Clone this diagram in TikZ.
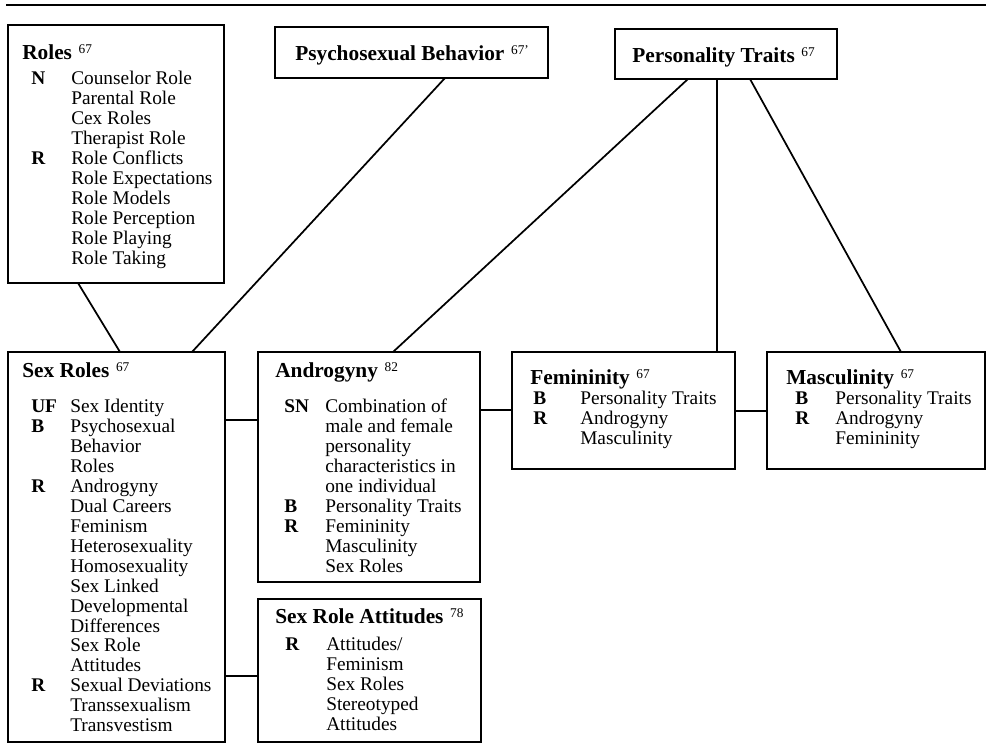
\documentclass[tikz,border=0pt]{standalone}
\usepackage{fontspec}
\usepackage{array}
\setmainfont{Liberation Serif}
\usetikzlibrary{calc}
\newcommand{\tikzHeading}[2]{{\fontsize{16}{18}\selectfont\bfseries #1}\hspace{5pt}\raisebox{4.5pt}{\fontsize{10}{10}\selectfont #2}}
\newcommand{\tikzTermList}[2]{\begin{tabular}[t]{@{}>{\bfseries}p{#1}@{}l@{}}#2\end{tabular}}
\tikzset{
  thesbox/.style n args={2}{draw, line width=1.4pt, inner sep=0pt, outer sep=0pt, anchor=north west,
    minimum width=#1*0.75pt, minimum height=#2*0.75pt},
  headtext/.style={anchor=base west, inner sep=0pt},
  termtext/.style={anchor=base west, inner sep=0pt, font=\fontsize{14.5}{15}\selectfont},
  link/.style={line width=1.3pt}
}

\begin{document}
\begin{tikzpicture}[x=0.75pt,y=-0.75pt]
  \useasboundingbox (0,0) rectangle (986,745);
  \draw[line width=1.6pt] (6,5) -- (986,5);
  % boxes
  \node[thesbox={216}{258}] (roles) at (8,25) {};
  \node[thesbox={273}{51}] (psychosexual) at (275,27) {};
  \node[thesbox={222}{50}] (traits) at (615,29) {};
  \node[thesbox={217}{390}] (sexroles) at (8,352) {};
  \node[thesbox={222}{230}] (androgyny) at (258,352) {};
  \node[thesbox={223}{143}] (attitudes) at (258,599) {};
  \node[thesbox={223}{117}] (femininity) at (512,352) {};
  \node[thesbox={218}{117}] (masculinity) at (767,352) {};
  % headings
  \node[headtext] (rolesHead) at (22,60) {\tikzHeading{Roles}{67}};
  \node[headtext] (psychosexualHead) at (295,61) {\tikzHeading{Psychosexual Behavior}{67'}};
  \node[headtext] (traitsHead) at (632,63) {\tikzHeading{Personality Traits}{67}};
  \node[headtext] (sexrolesHead) at (22,378) {\tikzHeading{Sex Roles}{67}};
  \node[headtext] (androgynyHead) at (275,378) {\tikzHeading{Androgyny}{82}};
  \node[headtext] (attitudesHead) at (275,623) {\tikzHeading{Sex Role Attitudes}{78}};
  \node[headtext] (femininityHead) at (530,385) {\tikzHeading{Femininity}{67}};
  \node[headtext] (masculinityHead) at (786,385) {\tikzHeading{Masculinity}{67}};
  % term lists
  \node[termtext] (rolesTerms) at (31,85) {\tikzTermList{30pt}{%
    N & Counselor Role\\ & Parental Role\\ & Cex Roles\\ & Therapist Role\\
    R & Role Conflicts\\ & Role Expectations\\ & Role Models\\ & Role Perception\\
      & Role Playing\\ & Role Taking}};
  \node[termtext] (sexrolesTerms) at (31,412) {\tikzTermList{29.25pt}{%
    UF & Sex Identity\\
    B & Psychosexual\\ & Behavior\\ & Roles\\
    R & Androgyny\\ & Dual Careers\\ & Feminism\\ & Heterosexuality\\ & Homosexuality\\
      & Sex Linked\\ & Developmental\\ & Differences\\ & Sex Role\\ & Attitudes\\
    R & Sexual Deviations\\ & Transsexualism\\ & Transvestism}};
  \node[termtext] (androgynyTerms) at (284,412) {\tikzTermList{30.75pt}{%
    SN & Combination of\\ & male and female\\ & personality\\ & characteristics in\\ & one individual\\
    B & Personality Traits\\
    R & Femininity\\ & Masculinity\\ & Sex Roles}};
  \node[termtext] (attitudesTerms) at (285,650) {\tikzTermList{30.75pt}{%
    R & Attitudes/\\ & Feminism\\ & Sex Roles\\ & Stereotyped\\ & Attitudes}};
  \node[termtext] (femininityTerms) at (533,405) {\tikzTermList{35.25pt}{%
    B & Personality Traits\\
    R & Androgyny\\ & Masculinity}};
  \node[termtext] (masculinityTerms) at (795,405) {\tikzTermList{30pt}{%
    B & Personality Traits\\
    R & Androgyny\\ & Femininity}};
  % links
  \draw[link] ($(roles.south west)+(70,0)$) -- ($(sexroles.north west)+(112,0)$);
  \draw[link] ($(psychosexual.south west)+(170,0)$) -- ($(sexroles.north west)+(184,0)$);
  \draw[link] ($(traits.south west)+(73,0)$) -- ($(androgyny.north west)+(135,0)$);
  \draw[link] ($(traits.south west)+(102,0)$) -- ($(femininity.north west)+(205,0)$);
  \draw[link] ($(traits.south west)+(135,0)$) -- ($(masculinity.north west)+(134,0)$);
  \draw[link] ($(sexroles.north east)+(0,68)$) -- ($(androgyny.north west)+(0,68)$);
  \draw[link] ($(sexroles.north east)+(0,324)$) -- ($(attitudes.north west)+(0,77)$);
  \draw[link] ($(androgyny.north east)+(0,58)$) -- ($(femininity.north west)+(0,58)$);
  \draw[link] ($(femininity.north east)+(0,59)$) -- ($(masculinity.north west)+(0,59)$);
\end{tikzpicture}
\end{document}
